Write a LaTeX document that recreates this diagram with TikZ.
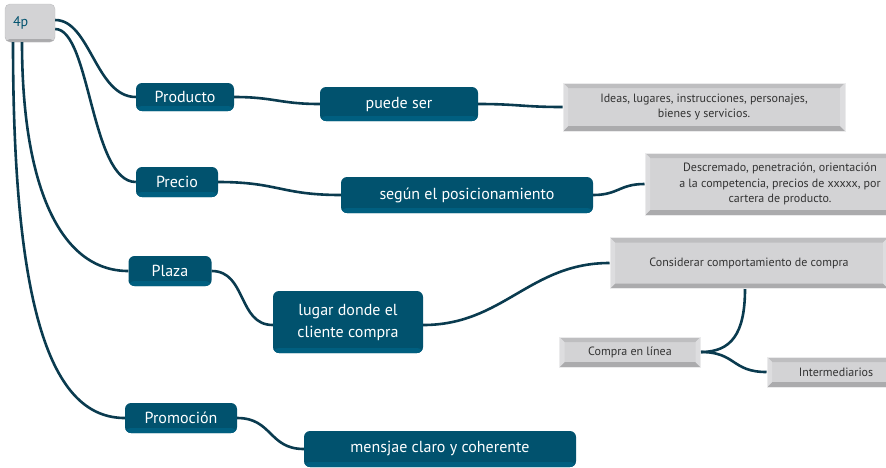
\documentclass[tikz,border=0pt]{standalone}
\usepackage{fontspec}
\setmainfont{PT Sans}
\usepackage{tikz}
\usetikzlibrary{positioning, calc}
\definecolor{myteal}{HTML}{01526E}
\definecolor{mytealband}{HTML}{005F80}
\definecolor{myline}{HTML}{0A3B4F}
\definecolor{mygray}{HTML}{D3D3D5}
\definecolor{bevtop}{HTML}{BEBEC0}
\definecolor{bevbottom}{HTML}{ABABAD}
\definecolor{bevside}{HTML}{DDDDDF}
\definecolor{graytext}{HTML}{333333}
\tikzset{
	rootnode/.style={
			rectangle,
			rounded corners=5pt,
			draw=bevtop,
			fill=mygray,
			text=myteal,
			inner sep=0pt,
			font=\fontsize{14}{16}\selectfont,
			path picture={
				\fill[bevbottom] (path picture bounding box.south west) rectangle ([yshift=3pt]path picture bounding box.south east);
			}
		},
	topicnode/.style={
			rectangle,
			rounded corners=6pt,
			fill=myteal,
			text=white,
			inner sep=0pt,
			align=center,
			font=\fontsize{16}{22}\selectfont,
			path picture={
				\fill[mytealband] (path picture bounding box.south west) rectangle ([yshift=5pt]path picture bounding box.south east);
			}
		},
	notenode/.style={
			rectangle,
			draw=bevside!60!white,
			line width=1pt,
			fill=mygray,
			text=graytext,
			inner sep=0pt,
			align=center,
			font=\fontsize{12}{15.5}\selectfont,
			path picture={
				\fill[bevtop] (path picture bounding box.north west) -- (path picture bounding box.north east)
					-- ([shift={(-5pt,-5pt)}]path picture bounding box.north east) -- ([shift={(5pt,-5pt)}]path picture bounding box.north west) -- cycle;
				\fill[bevbottom] (path picture bounding box.south west) -- (path picture bounding box.south east)
					-- ([shift={(-5pt,5pt)}]path picture bounding box.south east) -- ([shift={(5pt,5pt)}]path picture bounding box.south west) -- cycle;
				\fill[bevside] (path picture bounding box.north west) -- (path picture bounding box.south west)
					-- ([shift={(5pt,5pt)}]path picture bounding box.south west) -- ([shift={(5pt,-5pt)}]path picture bounding box.north west) -- cycle;
				\fill[bevside] (path picture bounding box.north east) -- (path picture bounding box.south east)
					-- ([shift={(-5pt,5pt)}]path picture bounding box.south east) -- ([shift={(-5pt,-5pt)}]path picture bounding box.north east) -- cycle;
			}
		},
	link/.style={
			draw=myline,
			line width=2.6pt
		}
}

\begin{document}
\begin{tikzpicture}[x=1pt, y=-1pt]
\useasboundingbox (0,0) rectangle (886,467);

\node[rootnode, minimum width=50pt, minimum height=38pt, text width=34pt, inner xsep=8pt, align=left] (root) at (30,23) {4p};

\node[topicnode, minimum width=98pt, minimum height=28pt] (prod) at (185,97) {Producto};
\node[topicnode, minimum width=82pt, minimum height=30pt] (precio) at (177,182) {Precio};
\node[topicnode, minimum width=83pt, minimum height=30pt] (plaza) at (170,271) {Plaza};
\node[topicnode, minimum width=112pt, minimum height=30pt] (promo) at (181,418) {Promoción};

\node[topicnode, minimum width=158pt, minimum height=34pt] (puede) at (399,104) {puede ser};
\node[topicnode, minimum width=252pt, minimum height=36pt] (segun) at (467,195) {según el posicionamiento};
\node[topicnode, minimum width=150pt, minimum height=62pt] (lugar) at (348,322) {lugar donde el\\cliente compra};
\node[topicnode, minimum width=272pt, minimum height=36pt] (mensaje) at (440,449) {mensjae claro y coherente};

\node[notenode, minimum width=282pt, minimum height=48pt] (ideas) at (704,107) {Ideas, lugares, instrucciones, personajes,\\bienes y servicios.};
\node[notenode, minimum width=270pt, minimum height=62pt] (descr) at (780,184) {Descremado, penetración, orientación\\a la competencia, precios de xxxxx, por\\cartera de producto.};
\node[notenode, minimum width=278pt, minimum height=51pt] (consid) at (749,263) {Considerar comportamiento de compra};
\node[notenode, minimum width=141pt, minimum height=30pt] (compra) at (630,352) {Compra en línea};
\node[notenode, minimum width=138pt, minimum height=30pt] (interm) at (836,372) {Intermediarios};

% ramas de 4p
\draw[link] ([yshift=3pt]root.east) .. controls +(35,0) and +(-40,0) .. (prod.west);
\draw[link] ([yshift=-6pt]root.east) .. controls +(35,0) and +(-45,0) .. (precio.west);
\draw[link] ([xshift=-8pt]root.south) .. controls +(0,140) and +(-70,0) .. (plaza.west);
\draw[link] ([xshift=-17pt]root.south) .. controls +(0,280) and +(-70,0) .. (promo.west);

\draw[link] (prod.east) .. controls +(40,0) and +(-40,0) .. (puede.west);
\draw[link] (precio.east) .. controls +(60,0) and +(-60,0) .. (segun.west);
\draw[link] (plaza.east) .. controls +(35,0) and +(-35,0) .. ([yshift=-3pt]lugar.west);
\draw[link] (promo.east) .. controls +(35,0) and +(-35,0) .. (mensaje.west);

\draw[link] (puede.east) .. controls +(40,0) and +(-40,0) .. (ideas.west);
\draw[link] (segun.east) .. controls +(25,0) and +(-25,0) .. (descr.west);
\draw[link] ([yshift=-3pt]lugar.east) .. controls +(80,0) and +(-80,0) .. (consid.west);
\draw[link] ([xshift=-4pt]consid.south) .. controls +(0,45) and +(30,0) .. (compra.east);
\draw[link] (compra.east) .. controls +(35,0) and +(-35,0) .. (interm.west);
\end{tikzpicture}
\end{document}
